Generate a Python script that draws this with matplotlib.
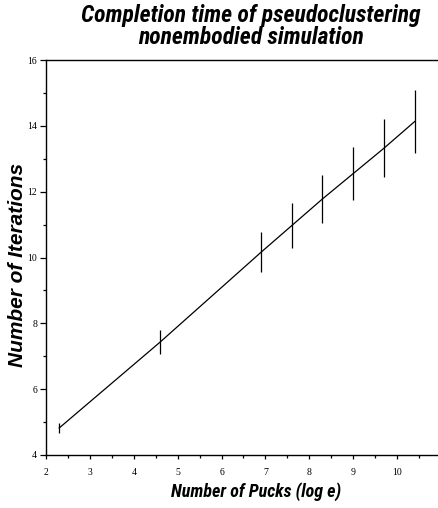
import numpy as np
import matplotlib
matplotlib.use('Agg')
import matplotlib.pyplot as plt
from matplotlib.ticker import MultipleLocator
from matplotlib import font_manager

# log of the number of pucks
pucks_log = [2.3, 4.6, 6.9, 7.6, 8.3, 9.0, 9.7, 10.4]
iterations = [4.82, 7.43, 10.16, 10.97, 11.78, 12.55, 13.32, 14.13]
err = [0.14, 0.36, 0.61, 0.68, 0.73, 0.80, 0.88, 0.95]


# the title and x label look like a narrow helvetica, pick a condensed font if there is one
def pick_narrow():
    for fam in ['Liberation Sans Narrow', 'Roboto Condensed', 'DejaVu Sans', 'Open Sans']:
        fp = font_manager.FontProperties(family=fam, weight='bold', style='italic',
                                         stretch='condensed')
        try:
            f = font_manager.findfont(fp, fallback_to_default=False)
        except Exception:
            continue
        if 'Narrow' in f or 'Condensed' in f:
            return fam, True
    return 'Liberation Sans', False


narrow, found = pick_narrow()
shrink = 1.0 if found else 0.8

fig = plt.figure(figsize=(4.39, 5.08), dpi=100)
ax = fig.add_axes([46/439, 1 - 455/508, 395/439, 395/508])

ax.errorbar(pucks_log, iterations, yerr=err, color='black', linewidth=0.9,
            elinewidth=0.9, capsize=0)

ax.set_xlim(2, 11)
ax.set_ylim(4, 16)
ax.xaxis.set_major_locator(MultipleLocator(1))
ax.xaxis.set_minor_locator(MultipleLocator(0.5))
ax.yaxis.set_major_locator(MultipleLocator(2))
ax.yaxis.set_minor_locator(MultipleLocator(1))

for s in ax.spines.values():
    s.set_linewidth(1.0)

ax.tick_params(axis='x', which='major', direction='out', length=3.2, width=0.9, pad=6,
               labelsize=7)
ax.tick_params(axis='y', which='major', direction='out', length=4.3, width=0.9, pad=2,
               labelsize=7)
ax.tick_params(which='minor', direction='out', length=2, width=0.9)
for lab in ax.get_xticklabels() + ax.get_yticklabels():
    lab.set_family('Liberation Serif')

fig.text(251/439, 0.992, 'Completion time of pseudoclustering\nnonembodied simulation',
         ha='center', va='top', fontsize=17 * shrink, fontweight='bold', style='italic',
         family=narrow, fontstretch='condensed', linespacing=0.92)
ax.set_xlabel('Number of Pucks (log e)', fontsize=13 * shrink, fontweight='bold',
              style='italic', family=narrow, fontstretch='condensed', labelpad=4)
ax.xaxis.set_label_coords(210/395, -0.07)
fig.text(18/439, 1 - 265/508, 'Number of Iterations', rotation=90, ha='center',
         va='center', fontsize=15, fontweight='bold', style='italic',
         family='Liberation Sans')

fig.savefig('out.png', dpi=100)
